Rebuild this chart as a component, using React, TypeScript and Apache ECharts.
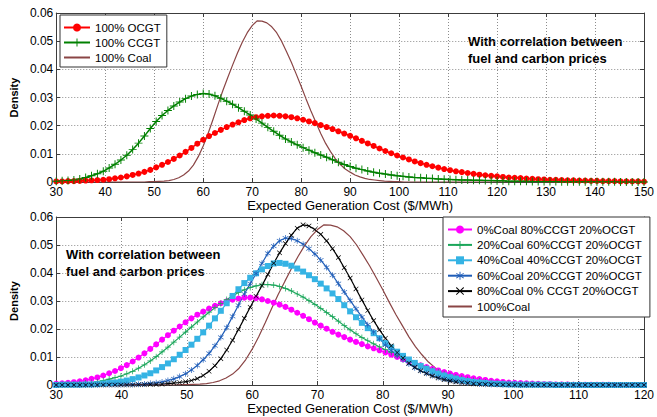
import React, { useEffect, useRef } from "react";
import * as echarts from "echarts";

// ---------- data ----------
// Top chart: samples from x = 30 to 150, step 1.2
const TOP_X0 = 30;
const TOP_DX = 1.2;
const ocgt = [
  0.0002, 0.0002, 0.0003, 0.0003, 0.0004, 0.0005, 0.0006, 0.0007, 0.0008, 0.001,
  0.0013, 0.0016, 0.002, 0.0025, 0.003, 0.0036, 0.0043, 0.0052, 0.0061, 0.0071,
  0.0082, 0.0094, 0.0107, 0.0121, 0.0136, 0.015, 0.0163, 0.0174, 0.0185, 0.0195,
  0.0204, 0.0212, 0.022, 0.0226, 0.023, 0.0233, 0.0235, 0.0236, 0.0235, 0.0233,
  0.023, 0.0226, 0.0221, 0.0215, 0.0209, 0.0202, 0.0195, 0.0188, 0.018, 0.0172,
  0.0164, 0.0155, 0.0146, 0.0137, 0.0128, 0.0119, 0.011, 0.0102, 0.0094, 0.0087,
  0.008, 0.0073, 0.0067, 0.0061, 0.0056, 0.0051, 0.0046, 0.0042, 0.0038, 0.0035,
  0.0032, 0.0029, 0.0026, 0.0024, 0.0022, 0.002, 0.0018, 0.0016, 0.0015, 0.0014,
  0.0012, 0.0011, 0.001, 0.0009, 0.0008, 0.0008, 0.0007, 0.0006, 0.0006, 0.0005,
  0.0005, 0.0004, 0.0004, 0.0003, 0.0003, 0.0003, 0.0002, 0.0002, 0.0002, 0.0002,
  0.0001,
];
const ccgt = [
  0.0003, 0.0004, 0.0005, 0.0007, 0.0011, 0.0016, 0.0022, 0.0029, 0.0038, 0.005,
  0.0063, 0.0078, 0.0095, 0.0115, 0.0138, 0.0163, 0.019, 0.0215, 0.0236, 0.0254,
  0.027, 0.0284, 0.0296, 0.0305, 0.0311, 0.0314, 0.0312, 0.0306, 0.0297, 0.0287,
  0.0276, 0.0264, 0.0251, 0.0238, 0.0224, 0.0209, 0.0194, 0.018, 0.0166, 0.0153,
  0.0142, 0.0132, 0.0122, 0.0113, 0.0104, 0.0096, 0.0088, 0.0079, 0.007, 0.0062,
  0.0055, 0.0049, 0.0044, 0.0039, 0.0035, 0.0031, 0.0028, 0.0025, 0.0022, 0.002,
  0.0018, 0.0016, 0.0015, 0.0013, 0.0012, 0.0011, 0.001, 0.0009, 0.0008, 0.0007,
  0.0007, 0.0006, 0.0006, 0.0005, 0.0005, 0.0004, 0.0004, 0.0003, 0.0003, 0.0003,
  0.0003, 0.0002, 0.0002, 0.0002, 0.0002, 0.0002, 0.0001, 0.0001, 0.0001, 0.0001,
  0.0001, 0.0001, 0.0001, 0.0001, 0.0001, 0.0001, 0, 0, 0, 0,
  0,
];
// 100% coal: samples from x = 48 to 101, step 1 (zero elsewhere)
const COAL_X0 = 48;
const COAL_DX = 1;
const coal = [
  0, 0.0001, 0.0001, 0.0002, 0.0003, 0.0005, 0.0009, 0.0015, 0.0025, 0.0039,
  0.006, 0.009, 0.0128, 0.0172, 0.0222, 0.0274, 0.0324, 0.037, 0.0415, 0.0458,
  0.0497, 0.053, 0.0555, 0.0572, 0.0571, 0.0565, 0.0551, 0.053, 0.05, 0.0463,
  0.0425, 0.0383, 0.034, 0.0295, 0.0252, 0.0212, 0.0172, 0.0137, 0.0108, 0.0082,
  0.0062, 0.0046, 0.0035, 0.0025, 0.0018, 0.0013, 0.0009, 0.0007, 0.0005, 0.0003,
  0.0002, 0.0001, 0.0001, 0,
];

// Bottom chart: samples from x = 30 to 120, step 0.9
const BOT_X0 = 30;
const BOT_DX = 0.9;
const mix0 = [
  0.0005, 0.0006, 0.0008, 0.001, 0.0013, 0.0017, 0.0022, 0.0027, 0.0034, 0.0042,
  0.005, 0.006, 0.0071, 0.0084, 0.0098, 0.0113, 0.0129, 0.0145, 0.0162, 0.0178,
  0.0194, 0.0209, 0.0224, 0.0238, 0.0251, 0.0262, 0.0273, 0.0283, 0.0292, 0.0299,
  0.0305, 0.0309, 0.0312, 0.0312, 0.031, 0.0306, 0.03, 0.0294, 0.0287, 0.0279,
  0.0269, 0.0258, 0.0247, 0.0235, 0.0223, 0.0212, 0.0201, 0.019, 0.018, 0.0171,
  0.0162, 0.0154, 0.0146, 0.0138, 0.0131, 0.0124, 0.0116, 0.0108, 0.01, 0.0092,
  0.0084, 0.0077, 0.007, 0.0064, 0.0058, 0.0052, 0.0046, 0.0041, 0.0036, 0.0032,
  0.0028, 0.0024, 0.0021, 0.0018, 0.0015, 0.0013, 0.0011, 0.0009, 0.0008, 0.0007,
  0.0006, 0.0005, 0.0004, 0.0003, 0.0003, 0.0002, 0.0002, 0.0002, 0.0001, 0.0001,
  0.0001, 0.0001, 0.0001, 0.0001, 0.0001, 0, 0, 0, 0, 0,
  0,
];
const mix20 = [
  0.0002, 0.0002, 0.0003, 0.0004, 0.0005, 0.0007, 0.0009, 0.0012, 0.0016, 0.0021,
  0.0026, 0.0032, 0.004, 0.0049, 0.006, 0.0072, 0.0086, 0.0101, 0.0118, 0.0135,
  0.0153, 0.0171, 0.0189, 0.0207, 0.0225, 0.0243, 0.026, 0.0276, 0.0291, 0.0305,
  0.0318, 0.033, 0.034, 0.0348, 0.0354, 0.0358, 0.0359, 0.0357, 0.0352, 0.0345,
  0.0336, 0.0325, 0.0314, 0.0301, 0.0288, 0.0274, 0.0259, 0.0244, 0.0228, 0.0212,
  0.0197, 0.0183, 0.017, 0.0158, 0.0147, 0.0136, 0.0126, 0.0116, 0.0106, 0.0096,
  0.0087, 0.0078, 0.0069, 0.0061, 0.0054, 0.0047, 0.004, 0.0034, 0.0029, 0.0024,
  0.002, 0.0017, 0.0014, 0.0011, 0.0009, 0.0007, 0.0006, 0.0005, 0.0004, 0.0003,
  0.0003, 0.0002, 0.0002, 0.0001, 0.0001, 0.0001, 0.0001, 0.0001, 0.0001, 0.0001,
  0, 0, 0, 0, 0, 0, 0, 0, 0, 0,
  0,
];
const mix40 = [
  0, 0.0001, 0.0001, 0.0001, 0.0001, 0.0002, 0.0002, 0.0003, 0.0005, 0.0007,
  0.0009, 0.0012, 0.0016, 0.0021, 0.0027, 0.0034, 0.0042, 0.0052, 0.0064, 0.0077,
  0.0092, 0.0108, 0.0125, 0.0144, 0.0165, 0.0188, 0.0212, 0.0238, 0.0265, 0.0292,
  0.0318, 0.0342, 0.0364, 0.0383, 0.0399, 0.0413, 0.0425, 0.0434, 0.0436, 0.0433,
  0.0426, 0.0416, 0.0405, 0.0392, 0.0378, 0.0362, 0.0345, 0.0327, 0.0307, 0.0285,
  0.0263, 0.0242, 0.0222, 0.0203, 0.0185, 0.0167, 0.015, 0.0134, 0.0119, 0.0104,
  0.0091, 0.0079, 0.0068, 0.0058, 0.0049, 0.0041, 0.0034, 0.0028, 0.0023, 0.0018,
  0.0014, 0.0011, 0.0009, 0.0007, 0.0005, 0.0004, 0.0003, 0.0002, 0.0002, 0.0001,
  0.0001, 0.0001, 0.0001, 0.0001, 0.0001, 0, 0, 0, 0, 0,
  0, 0, 0, 0, 0, 0, 0, 0, 0, 0,
  0,
];
const mix60 = [
  0, 0, 0, 0, 0, 0, 0, 0.0001, 0.0001, 0.0001,
  0.0001, 0.0001, 0.0002, 0.0002, 0.0003, 0.0004, 0.0006, 0.0008, 0.0011, 0.0016,
  0.0022, 0.003, 0.004, 0.0054, 0.007, 0.009, 0.0113, 0.014, 0.017, 0.0205,
  0.0245, 0.0285, 0.0325, 0.0362, 0.0398, 0.0435, 0.047, 0.0496, 0.0515, 0.0525,
  0.0523, 0.0515, 0.0503, 0.0487, 0.0468, 0.0446, 0.042, 0.0392, 0.0362, 0.0332,
  0.0302, 0.0272, 0.0243, 0.0215, 0.0189, 0.0165, 0.0143, 0.0123, 0.0105, 0.0089,
  0.0075, 0.0062, 0.0051, 0.0042, 0.0034, 0.0027, 0.0021, 0.0017, 0.0013, 0.001,
  0.0008, 0.0006, 0.0004, 0.0003, 0.0002, 0.0002, 0.0001, 0.0001, 0.0001, 0,
  0, 0, 0, 0, 0, 0, 0, 0, 0, 0,
  0, 0, 0, 0, 0, 0, 0, 0, 0, 0,
  0,
];
const mix80 = [
  0, 0, 0, 0, 0, 0, 0, 0, 0, 0,
  0, 0, 0, 0, 0.0001, 0.0001, 0.0002, 0.0002, 0.0003, 0.0005,
  0.0007, 0.0009, 0.0012, 0.0016, 0.0023, 0.0034, 0.0049, 0.0069, 0.0094, 0.0125,
  0.016, 0.0198, 0.0238, 0.0278, 0.0317, 0.0355, 0.0395, 0.0435, 0.0472, 0.0505,
  0.0535, 0.056, 0.0572, 0.0568, 0.0555, 0.0538, 0.0515, 0.0487, 0.0455, 0.0419,
  0.0382, 0.0343, 0.0304, 0.0266, 0.023, 0.0197, 0.0167, 0.014, 0.0116, 0.0096,
  0.0078, 0.0063, 0.0051, 0.0041, 0.0032, 0.0025, 0.0019, 0.0014, 0.0011, 0.0008,
  0.0006, 0.0004, 0.0003, 0.0002, 0.0002, 0.0001, 0.0001, 0.0001, 0, 0,
  0, 0, 0, 0, 0, 0, 0, 0, 0, 0,
  0, 0, 0, 0, 0, 0, 0, 0, 0, 0,
  0,
];

const TOP_NAMES = ["100% OCGT", "100% CCGT", "100% Coal"];
const BOT_NAMES = [
  "0%Coal 80%CCGT 20%OCGT",
  "20%Coal 60%CCGT 20%OCGT",
  "40%Coal 40%CCGT 20%OCGT",
  "60%Coal 20%CCGT 20%OCGT",
  "80%Coal 0% CCGT 20%OCGT",
  "100%Coal",
];
const X_TITLE = "Expected Generation Cost ($/MWh)";
const Y_TITLE = "Density";
const NOTE_1 = "With correlation between";
const NOTE_2 = "fuel and carbon prices";

// ---------- helpers ----------
const FONT = '"Liberation Sans", Arial, Helvetica, sans-serif';
const AXIS = "#3c3c3c";
const COAL_COLOR = "#8a4545";

function pairs(x0: number, dx: number, ys: number[]) {
  return ys.map((y, i) => [Math.round((x0 + i * dx) * 100) / 100, y]);
}
function coalPairs(xMin: number, xMax: number) {
  return [[xMin, 0], ...pairs(COAL_X0, COAL_DX, coal), [xMax, 0]];
}

const PLUS = "path://M4.4,0H5.6V4.4H10V5.6H5.6V10H4.4V5.6H0V4.4H4.4Z";
const CROSS =
  "path://M1.3,1.6L9.3,7.6L8.7,8.4L0.7,2.4Z M0.7,7.6L8.7,1.6L9.3,2.4L1.3,8.4Z";
const STAR =
  "path://M4.5,0L5.5,0L5.5,10L4.5,10Z M1.3,1.6L9.3,7.6L8.7,8.4L0.7,2.4Z M0.7,7.6L8.7,1.6L9.3,2.4L1.3,8.4Z";

function xAxes(gridIndex: number, min: number, max: number, nameGap: number) {
  const line = { show: true, onZero: false, lineStyle: { color: AXIS, width: 1 } };
  const tick = { show: true, inside: true, length: 4, lineStyle: { color: AXIS } };
  return [
    {
      type: "value",
      gridIndex,
      min,
      max,
      interval: 10,
      position: "bottom",
      axisLine: line,
      axisTick: tick,
      axisLabel: { margin: 4, color: "#000", fontSize: 12, fontFamily: FONT },
      splitLine: { show: true, lineStyle: { type: [1, 2], color: "#8c8c8c", width: 1 } },
      name: X_TITLE,
      nameLocation: "middle",
      nameGap,
      nameTextStyle: { color: "#000", fontSize: 13, fontFamily: FONT },
    },
    {
      type: "value",
      gridIndex,
      min,
      max,
      interval: 10,
      position: "top",
      axisLine: line,
      axisTick: tick,
      axisLabel: { show: false },
      splitLine: { show: false },
    },
  ];
}
function yAxes(gridIndex: number) {
  const line = { show: true, onZero: false, lineStyle: { color: AXIS, width: 1 } };
  const tick = { show: true, inside: true, length: 4, lineStyle: { color: AXIS } };
  return [
    {
      type: "value",
      gridIndex,
      min: 0,
      max: 0.06,
      interval: 0.01,
      position: "left",
      axisLine: line,
      axisTick: tick,
      axisLabel: { margin: 3, color: "#000", fontSize: 12, fontFamily: FONT },
      splitLine: { show: true, lineStyle: { type: [1, 2], color: "#8c8c8c", width: 1 } },
      name: Y_TITLE,
      nameLocation: "middle",
      nameGap: 28,
      nameTextStyle: { color: "#000", fontSize: 11, fontWeight: "bold", fontFamily: FONT },
    },
    {
      type: "value",
      gridIndex,
      min: 0,
      max: 0.06,
      interval: 0.01,
      position: "right",
      axisLine: line,
      axisTick: tick,
      axisLabel: { show: false },
      splitLine: { show: false },
    },
  ];
}

function lineSeries(
  name: string,
  axis: number,
  data: number[][],
  color: string,
  symbol: string,
  symbolSize: number,
  width: number,
  show = true
) {
  return {
    name,
    type: "line",
    xAxisIndex: axis,
    yAxisIndex: axis,
    data,
    symbol,
    symbolSize,
    showSymbol: show,
    lineStyle: { color, width },
    itemStyle: { color, borderWidth: 0 },
    emphasis: { disabled: true },
  };
}

function legendData(names: string[], coalName: string) {
  return names.map((n) =>
    n === coalName ? { name: n, itemStyle: { opacity: 0 } } : { name: n }
  );
}

function buildOption() {
  const legendText = { color: "#000", fontSize: 11.5, fontFamily: FONT, lineHeight: 13 };
  return {
    animation: false,
    backgroundColor: "#fff",
    grid: [
      { left: 49, top: 13, width: 599, height: 169 },
      { left: 49, top: 217, width: 599, height: 168 },
    ],
    xAxis: [...xAxes(0, 30, 150, 13), ...xAxes(1, 30, 120, 16)],
    yAxis: [...yAxes(0), ...yAxes(1)],
    legend: [
      {
        data: legendData(TOP_NAMES, TOP_NAMES[2]),
        orient: "vertical",
        left: 60,
        top: 15,
        itemWidth: 26,
        itemHeight: 10,
        itemGap: 2,
        padding: [6, 6, 3, 3],
        backgroundColor: "#fff",
        borderColor: "#333",
        borderWidth: 1,
        borderRadius: 0,
        selectedMode: false,
        textStyle: legendText,
      },
      {
        data: legendData(BOT_NAMES, BOT_NAMES[5]),
        orient: "vertical",
        left: 443,
        top: 217,
        itemWidth: 24,
        itemHeight: 10,
        itemGap: 2.4,
        padding: [6, 8, 4, 4],
        backgroundColor: "#fff",
        borderColor: "#333",
        borderWidth: 1,
        borderRadius: 0,
        selectedMode: false,
        textStyle: legendText,
      },
    ],
    graphic: [
      { type: "text", x: 468, y: 41, style: { text: NOTE_1, font: `bold 13px ${FONT}`, fill: "#000", verticalAlign: "middle" } },
      { type: "text", x: 468, y: 58, style: { text: NOTE_2, font: `bold 13px ${FONT}`, fill: "#000", verticalAlign: "middle" } },
      { type: "text", x: 66, y: 254, style: { text: NOTE_1, font: `bold 13px ${FONT}`, fill: "#000", verticalAlign: "middle" } },
      { type: "text", x: 66, y: 271, style: { text: NOTE_2, font: `bold 13px ${FONT}`, fill: "#000", verticalAlign: "middle" } },
    ],
    series: [
      lineSeries(TOP_NAMES[0], 0, pairs(TOP_X0, TOP_DX, ocgt), "#ff0000", "circle", 6, 1.5),
      lineSeries(TOP_NAMES[1], 0, pairs(TOP_X0, TOP_DX, ccgt), "#008000", PLUS, 8, 1.5),
      lineSeries(TOP_NAMES[2], 0, coalPairs(30, 150), COAL_COLOR, "circle", 0, 1.2, false),
      lineSeries(BOT_NAMES[0], 2, pairs(BOT_X0, BOT_DX, mix0), "#ff00ff", "circle", 6, 1.2),
      lineSeries(BOT_NAMES[1], 2, pairs(BOT_X0, BOT_DX, mix20), "#1aa65a", PLUS, 6, 1.2),
      lineSeries(BOT_NAMES[2], 2, pairs(BOT_X0, BOT_DX, mix40), "#35b3e4", "rect", 6, 1.2),
      lineSeries(BOT_NAMES[3], 2, pairs(BOT_X0, BOT_DX, mix60), "#1f5db8", STAR, 6, 1.2),
      lineSeries(BOT_NAMES[4], 2, pairs(BOT_X0, BOT_DX, mix80), "#000000", CROSS, 5, 1.2),
      lineSeries(BOT_NAMES[5], 2, coalPairs(30, 120), COAL_COLOR, "circle", 0, 1.2, false),
    ],
  };
}

export default function App() {
  const ref = useRef<HTMLDivElement>(null);
  useEffect(() => {
    if (!ref.current) return;
    const chart = echarts.init(ref.current, undefined, { renderer: "svg" });
    chart.setOption(buildOption() as any);
    return () => chart.dispose();
  }, []);
  return (
    <div
      ref={ref}
      style={{ position: "absolute", left: 0, top: 0, width: 657, height: 417, background: "#fff" }}
    />
  );
}
